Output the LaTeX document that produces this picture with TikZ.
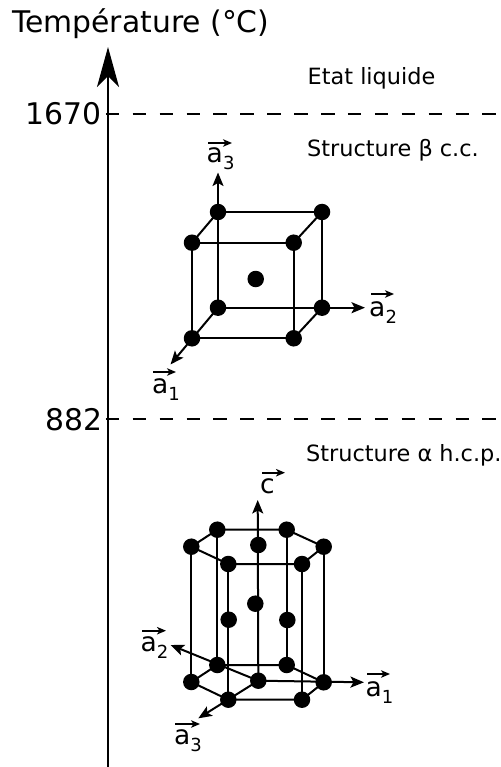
\documentclass[tikz,border=0pt]{standalone}
\usepackage{fontspec}
\setmainfont{DejaVu Sans}
\usetikzlibrary{arrows.meta}
\newcommand{\bigfont}{\fontsize{29.8}{32}\selectfont}
\newcommand{\smallfont}{\fontsize{22.4}{26}\selectfont}
\newcommand{\vecfont}{\fontsize{26.5}{30}\selectfont}
\newcommand{\subfont}{\fontsize{18}{20}\selectfont}
\tikzset{
  atom/.style={circle,fill=black,inner sep=0pt,minimum size=16.5pt},
  edge/.style={line width=2pt,draw=black},
  axisarrow/.style={line width=2pt,draw=black,-{Stealth[length=13.5pt,width=11pt,inset=3pt]}},
  mainaxis/.style={line width=2.2pt,draw=black,-{Stealth[length=40pt,width=22pt,inset=11pt]}},
  level/.style={line width=2pt,draw=black,dash pattern=on 13.5pt off 13.4pt},
  bigtext/.style={anchor=base west,inner sep=0pt,font=\bigfont},
  smalltext/.style={anchor=base west,inner sep=0pt,font=\smallfont},
  vectext/.style={anchor=base west,inner sep=0pt,font=\vecfont},
  subtext/.style={anchor=base west,inner sep=0pt,font=\subfont},
  vecarrow/.style={line width=1.6pt,draw=black,-{Stealth[length=9pt,width=7.5pt,inset=2.5pt]}},
}
\begin{document}
\begin{tikzpicture}[x=1pt,y=-1pt]
\useasboundingbox[fill=white] (0,0) rectangle (500,767);
% axis and levels
\coordinate (axb) at (108,767);
\coordinate (axt) at (108,47);
\coordinate (l1a) at (105.8,114);
\coordinate (l1b) at (497,114);
\coordinate (l2a) at (105.8,419);
\coordinate (l2b) at (497,419);
\draw[mainaxis] (axb) -- (axt);
\draw[level] (l1a) -- (l1b);
\draw[level] (l2a) -- (l2b);
\node[bigtext] (ttl) at (12,33) {Température (°C)};
\node[bigtext] (t1670) at (25,125) {1670};
\node[bigtext] (t882) at (45,430) {882};
\node[smalltext] (liq) at (307.5,85) {Etat liquide};
\node[smalltext] (beta) at (307,156.5) {Structure β c.c.};
\node[smalltext] (alpha) at (306,461.5) {Structure α h.c.p.};
% cube
\node[atom] (btl) at (218,212) {};
\node[atom] (btr) at (322,212) {};
\node[atom] (ftl) at (192,242.7) {};
\node[atom] (ftr) at (293.7,242.7) {};
\node[atom] (cc) at (255.7,279) {};
\node[atom] (bbl) at (218,307.7) {};
\node[atom] (bbr) at (322,307.7) {};
\node[atom] (fbl) at (192,338.3) {};
\node[atom] (fbr) at (293.7,338.3) {};
\coordinate (ca3) at (218,172.5);
\coordinate (ca2) at (365,307.7);
\coordinate (ca1) at (170.5,364.5);
\draw[edge] (btl.center) -- (btr.center) -- (bbr.center) -- (bbl.center) -- (btl.center);
\draw[edge] (ftl.center) -- (ftr.center) -- (fbr.center) -- (fbl.center) -- (ftl.center);
\draw[edge] (btl.center) -- (ftl.center);
\draw[edge] (btr.center) -- (ftr.center);
\draw[edge] (bbr.center) -- (fbr.center);
\draw[axisarrow] (bbl.center) -- (ca3);
\draw[axisarrow] (bbl.center) -- (ca2);
\draw[axisarrow] (bbl.center) -- (ca1);
% cube vector labels
\node[vectext] (la3) at (206.5,163) {a};
\node[subtext] (la3s) at (222.9,170) {3};
\coordinate (la3p) at (208,143); \coordinate (la3q) at (232,143);
\draw[vecarrow] (la3p) -- (la3q);
\node[vectext] (la2) at (369,316) {a};
\node[subtext] (la2s) at (385.4,323) {2};
\coordinate (la2p) at (371,294); \coordinate (la2q) at (394,294);
\draw[vecarrow] (la2p) -- (la2q);
\node[vectext] (la1) at (151.8,393) {a};
\node[subtext] (la1s) at (168.2,400) {1};
\coordinate (la1p) at (153,372); \coordinate (la1q) at (176,372);
\draw[vecarrow] (la1p) -- (la1q);
% hexagonal prism
\node[atom] (t1) at (217.3,529.7) {};
\node[atom] (t2) at (286.7,529.7) {};
\node[atom] (t3) at (323.7,546.7) {};
\node[atom] (t4) at (302,564) {};
\node[atom] (t5) at (228.3,564) {};
\node[atom] (t6) at (191.3,546.7) {};
\node[atom] (tc) at (258.3,545) {};
\node[atom] (m1) at (255.3,603.7) {};
\node[atom] (m2) at (228.7,619.7) {};
\node[atom] (m3) at (287.3,620) {};
\node[atom] (b1) at (217.3,665) {};
\node[atom] (b2) at (286.7,665) {};
\node[atom] (b3) at (323.7,682.3) {};
\node[atom] (b4) at (302,699.7) {};
\node[atom] (b5) at (228.3,699.7) {};
\node[atom] (b6) at (191.3,682) {};
\node[atom] (bc) at (258.3,680.7) {};
\coordinate (hc) at (257.7,500);
\coordinate (ha1) at (364,682.3);
\coordinate (ha2) at (170.5,645);
\coordinate (ha3) at (198.3,718.3);
\draw[edge] (t1.center) -- (t2.center) -- (t3.center) -- (t4.center) -- (t5.center) -- (t6.center) -- (t1.center);
\draw[edge] (b1.center) -- (b2.center) -- (b3.center) -- (b4.center) -- (b5.center) -- (b6.center) -- (b1.center);
\draw[edge] (t1.center) -- (b1.center);
\draw[edge] (t2.center) -- (b2.center);
\draw[edge] (t3.center) -- (b3.center);
\draw[edge] (t4.center) -- (b4.center);
\draw[edge] (t5.center) -- (b5.center);
\draw[edge] (t6.center) -- (b6.center);
\draw[axisarrow] (bc.center) -- (hc);
\draw[axisarrow] (bc.center) -- (ha1);
\draw[axisarrow] (bc.center) -- (ha2);
\draw[axisarrow] (bc.center) -- (ha3);
% hex vector labels
\node[vectext] (lc) at (260,493) {c};
\coordinate (lcp) at (262,472.7); \coordinate (lcq) at (285,472.7);
\draw[vecarrow] (lcp) -- (lcq);
\node[vectext] (lh2) at (140.3,651) {a};
\node[subtext] (lh2s) at (156.7,658) {2};
\coordinate (lh2p) at (142,630.7); \coordinate (lh2q) at (166,630.7);
\draw[vecarrow] (lh2p) -- (lh2q);
\node[vectext] (lh1) at (365.3,696) {a};
\node[subtext] (lh1s) at (381.7,703) {1};
\coordinate (lh1p) at (367,674); \coordinate (lh1q) at (390,674);
\draw[vecarrow] (lh1p) -- (lh1q);
\node[vectext] (lh3) at (173.8,744) {a};
\node[subtext] (lh3s) at (190.2,751) {3};
\coordinate (lh3p) at (175,724); \coordinate (lh3q) at (200,724);
\draw[vecarrow] (lh3p) -- (lh3q);
\end{tikzpicture}
\end{document}
